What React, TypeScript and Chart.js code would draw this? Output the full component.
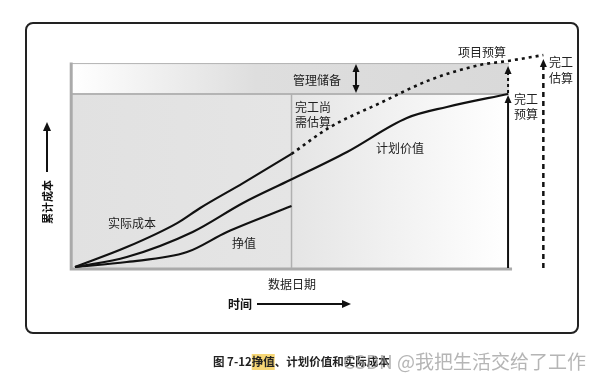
import React, { useEffect, useRef } from "react";
import { Chart, registerables } from "chart.js";

Chart.register(...registerables);

// ---- data (time units 0..100, cost units 0..100) ----
const acTime = [0, 11, 21.7, 26.6, 35.7, 46];
const acCost = [0, 9.2, 20.3, 27.3, 38.8, 52.3];
const pvTime = [0, 11, 25, 35.7, 45.7, 57.8, 70.5, 79, 92];
const pvCost = [0, 4.6, 16.2, 29.6, 40.2, 53.2, 68.9, 74, 80];
const evTime = [0, 11, 23.8, 32.3, 46];
const evCost = [0, 2.3, 6.9, 16.2, 28.2];
const eacTime = [46, 54.2, 64.8, 75.4, 86, 92, 99.5];
const eacCost = [52.3, 64.7, 75.8, 86.5, 93.4, 95.3, 98];

const dataDate = 46;
const bacTime = 92;
const bacCost = 80;
const projectBudget = 94.3;
const eacFinal = 98;
const eacEnd = 99.5;
const plotStart = -0.7;

const FONT = '"Noto Sans CJK SC", "Noto Sans", sans-serif';

const toPts = (xs: number[], ys: number[]) => xs.map((x, i) => ({ x, y: ys[i] }));

function arrowHead(ctx: CanvasRenderingContext2D, x: number, y: number, dir: "up" | "down" | "right", w = 7, h = 8) {
  ctx.beginPath();
  if (dir === "up") {
    ctx.moveTo(x, y);
    ctx.lineTo(x - w / 2, y + h);
    ctx.lineTo(x + w / 2, y + h);
  } else if (dir === "down") {
    ctx.moveTo(x, y);
    ctx.lineTo(x - w / 2, y - h);
    ctx.lineTo(x + w / 2, y - h);
  } else {
    ctx.moveTo(x, y);
    ctx.lineTo(x - h, y - w / 2);
    ctx.lineTo(x - h, y + w / 2);
  }
  ctx.closePath();
  ctx.fill();
}

const decor = {
  id: "decor",
  beforeDatasetsDraw(chart: any) {
    const ctx: CanvasRenderingContext2D = chart.ctx;
    const xs = chart.scales.x;
    const ys = chart.scales.y;
    const X = (v: number) => xs.getPixelForValue(v);
    const Y = (v: number) => ys.getPixelForValue(v);
    ctx.save();
    ctx.fillStyle = "#ffffff";
    ctx.fillRect(0, 0, chart.width, chart.height);
    ctx.strokeStyle = "#222";
    ctx.lineWidth = 2;
    ctx.beginPath();
    (ctx as any).roundRect(26, 23, 552, 310, 7);
    ctx.stroke();

    const left = X(plotStart);
    const right = X(bacTime) + 1;
    const bandTop = Y(projectBudget);
    const bandBot = Y(bacCost);
    const bottom = Y(0) + 1;
    const dd = X(dataDate);

    let g = ctx.createLinearGradient(left, 0, right, 0);
    g.addColorStop(0, "#ffffff");
    g.addColorStop(0.42, "#dedede");
    g.addColorStop(1, "#d9d9d9");
    ctx.fillStyle = g;
    ctx.fillRect(left, bandTop, right - left, bandBot - bandTop);
    g = ctx.createLinearGradient(left, 0, right, 0);
    g.addColorStop(0, "#e1e1e1");
    g.addColorStop((dd - left) / (right - left), "#e5e5e5");
    g.addColorStop(0.92, "#fbfbfb");
    g.addColorStop(1, "#ffffff");
    ctx.fillStyle = g;
    ctx.fillRect(left, bandBot, right - left, bottom - bandBot);

    ctx.strokeStyle = "#b4b4b4";
    ctx.lineWidth = 1;
    ctx.beginPath();
    ctx.moveTo(left, bandTop + 0.5);
    ctx.lineTo(right, bandTop + 0.5);
    ctx.stroke();
    ctx.lineWidth = 2;
    ctx.beginPath();
    ctx.moveTo(left, bandBot);
    ctx.lineTo(right, bandBot);
    ctx.stroke();
    ctx.strokeStyle = "#aaaaaa";
    ctx.lineWidth = 3;
    ctx.beginPath();
    ctx.moveTo(left - 0.5, bandTop - 0.5);
    ctx.lineTo(left - 0.5, bottom + 1);
    ctx.lineTo(right + 3, bottom + 1);
    ctx.stroke();
    ctx.strokeStyle = "#b0b0b0";
    ctx.lineWidth = 1.5;
    ctx.beginPath();
    ctx.moveTo(dd, bandBot);
    ctx.lineTo(dd, bottom);
    ctx.stroke();
    ctx.restore();
  },
  afterDatasetsDraw(chart: any) {
    const ctx: CanvasRenderingContext2D = chart.ctx;
    const xs = chart.scales.x;
    const ys = chart.scales.y;
    const X = (v: number) => xs.getPixelForValue(v);
    const Y = (v: number) => ys.getPixelForValue(v);
    ctx.save();
    ctx.fillStyle = "#111";
    ctx.strokeStyle = "#111";
    const bx = X(bacTime);
    ctx.lineWidth = 2;
    ctx.beginPath();
    ctx.moveTo(bx, Y(0) + 1);
    ctx.lineTo(bx, Y(bacCost) + 6);
    ctx.stroke();
    arrowHead(ctx, bx, Y(bacCost) + 1, "up");
    ctx.setLineDash([3, 3]);
    ctx.beginPath();
    ctx.moveTo(bx, Y(bacCost) - 1);
    ctx.lineTo(bx, Y(projectBudget) + 8);
    ctx.stroke();
    ctx.setLineDash([]);
    arrowHead(ctx, bx, Y(projectBudget) + 3, "up");
    const ex = X(eacEnd);
    ctx.lineWidth = 2.5;
    ctx.setLineDash([5, 4]);
    ctx.beginPath();
    ctx.moveTo(ex, Y(0) + 1);
    ctx.lineTo(ex, Y(eacFinal) + 10);
    ctx.stroke();
    ctx.setLineDash([]);
    arrowHead(ctx, ex, Y(eacFinal) + 4, "up");
    const mx = 356;
    ctx.lineWidth = 2;
    ctx.beginPath();
    ctx.moveTo(mx, Y(projectBudget) + 6);
    ctx.lineTo(mx, Y(bacCost) - 6);
    ctx.stroke();
    arrowHead(ctx, mx, Y(projectBudget) + 1, "up");
    arrowHead(ctx, mx, Y(bacCost) - 1, "down");

    ctx.lineWidth = 2;
    ctx.beginPath();
    ctx.moveTo(47, 172);
    ctx.lineTo(47, 128);
    ctx.stroke();
    arrowHead(ctx, 47, 122, "up", 8, 9);
    ctx.beginPath();
    ctx.moveTo(257, 304);
    ctx.lineTo(343, 304);
    ctx.stroke();
    arrowHead(ctx, 351, 304, "right", 8, 9);

    ctx.fillStyle = "#222";
    ctx.font = `12px ${FONT}`;
    ctx.textBaseline = "middle";
    ctx.textAlign = "center";
    ctx.fillText("项目预算", 482, 52);
    ctx.fillText("计划价值", 400, 148);
    ctx.fillText("实际成本", 132, 223);
    ctx.fillText("挣值", 244, 243);
    ctx.fillText("数据日期", 292, 284);
    ctx.textAlign = "left";
    ctx.fillText("管理储备", 293, 80);
    ctx.fillText("完工尚", 295, 107);
    ctx.fillText("需估算", 295, 122);
    ctx.fillText("完工", 549, 62);
    ctx.fillText("估算", 549, 78);
    ctx.fillText("完工", 514, 99);
    ctx.fillText("预算", 514, 114);

    ctx.fillStyle = "#111";
    ctx.font = `bold 12px ${FONT}`;
    ctx.textAlign = "center";
    ctx.fillText("时间", 240, 304);
    ctx.save();
    ctx.translate(48, 202);
    ctx.rotate(-Math.PI / 2);
    ctx.font = `bold 11px ${FONT}`;
    ctx.fillText("累计成本", 0, 0);
    ctx.restore();

    ctx.font = `bold 11.5px ${FONT}`;
    ctx.textAlign = "left";
    let cx = 213;
    const cy = 362;
    const p1 = "图 7-12";
    ctx.fillStyle = "#222";
    ctx.fillText(p1, cx, cy);
    cx += ctx.measureText(p1).width;
    const p2 = "挣值";
    const w2 = ctx.measureText(p2).width;
    ctx.fillStyle = "#f6d675";
    ctx.fillRect(cx, cy - 8, w2, 16);
    ctx.fillStyle = "#222";
    ctx.fillText(p2, cx, cy);
    cx += w2;
    ctx.fillText("、计划价值和实际成本", cx, cy);

    ctx.font = `19px ${FONT}`;
    ctx.fillStyle = "rgba(150,150,150,0.7)";
    ctx.fillText("CSDN @我把生活交给了工作", 343, 362);
    ctx.restore();
  },
};

export default function App() {
  const ref = useRef<HTMLCanvasElement>(null);
  useEffect(() => {
    if (!ref.current) return;
    const line = (label: string, xs: number[], ys: number[], dashed = false) => ({
      label,
      data: toPts(xs, ys),
      borderColor: "#111",
      borderWidth: dashed ? 2.6 : 2.2,
      borderDash: dashed ? [3, 4] : [],
      pointRadius: 0,
      fill: false,
      cubicInterpolationMode: "monotone" as const,
      clip: false as any,
    });
    const chart = new Chart(ref.current, {
      type: "line",
      data: {
        datasets: [
          line("实际成本", acTime, acCost),
          line("计划价值", pvTime, pvCost),
          line("挣值", evTime, evCost),
          line("完工尚需估算", eacTime, eacCost, true),
        ],
      },
      options: {
        responsive: false,
        animation: false,
        devicePixelRatio: 1,
        layout: { padding: { left: 75, right: 63.3, top: 50.75, bottom: 118 } },
        scales: {
          x: { type: "linear", min: 0, max: 100, display: false },
          y: { type: "linear", min: 0, max: 100, display: false },
        },
        plugins: { legend: { display: false }, tooltip: { enabled: false } },
      },
      plugins: [decor],
    });
    return () => chart.destroy();
  }, []);
  return (
    <div style={{ position: "fixed", left: 0, top: 0, width: 609, height: 385 }}>
      <canvas ref={ref} width={609} height={385} style={{ width: 609, height: 385, display: "block" }} />
    </div>
  );
}
